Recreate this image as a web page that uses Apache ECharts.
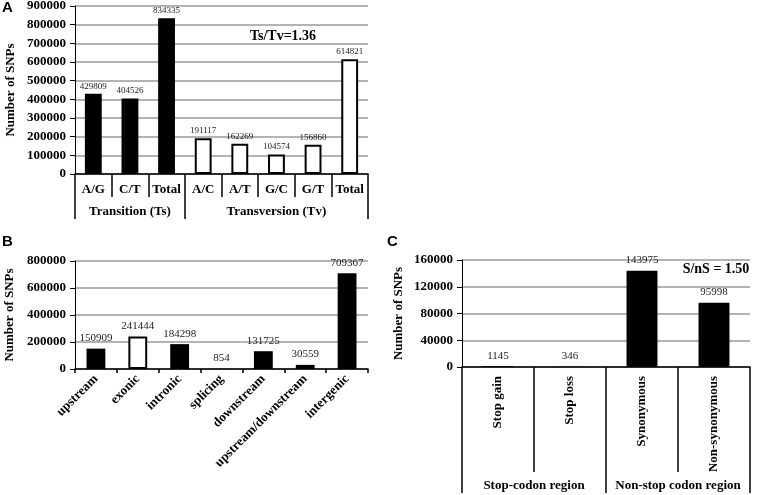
<!DOCTYPE html>
<html>
<head>
<meta charset="utf-8">
<script src="https://cdn.jsdelivr.net/npm/echarts@6/dist/echarts.min.js"></script>
<style>
html,body{margin:0;padding:0;background:#fff;}
#chart{width:757px;height:495px;}
</style>
</head>
<body>
<div id="chart"></div>
<script>
// ---- Panel A data ----
const catsA = ['A/G', 'C/T', 'Total', 'A/C', 'A/T', 'G/C', 'G/T', 'Total'];
const valsA = [429809, 404526, 834335, 191117, 162269, 104574, 156860, 614821];
const groupsA = ['Transition (Ts)', 'Transversion (Tv)'];
const groupSizesA = [3, 5];
const ticksA = [0, 100000, 200000, 300000, 400000, 500000, 600000, 700000, 800000, 900000];
const noteA = 'Ts/Tv=1.36';

// ---- Panel B data ----
const catsB = ['upstream', 'exonic', 'intronic', 'splicing', 'downstream', 'upstream/downstream', 'intergenic'];
const valsB = [150909, 241444, 184298, 854, 131725, 30559, 709367];
const ticksB = [0, 200000, 400000, 600000, 800000];

// ---- Panel C data ----
const catsC = ['Stop gain', 'Stop loss', 'Synonymous', 'Non-synonymous'];
const valsC = [1145, 346, 143975, 95998];
const groupsC = ['Stop-codon region', 'Non-stop codon region'];
const ticksC = [0, 40000, 80000, 120000, 160000];
const noteC = 'S/nS = 1.50';

const yTitle = 'Number of SNPs';

// ---- styling ----
const SERIF = '"Times New Roman", "Liberation Serif", serif';
const SANS = 'Arial, "Liberation Sans", sans-serif';
const black = {color: '#000'};
const hollow = {color: '#fff', borderColor: '#000', borderWidth: 2};
const hollowA = new Set(groupsA.slice(1)); // Transversion bars are hollow
const hollowB = new Set(['exonic']);

// group membership for A
const groupOfA = [];
groupSizesA.forEach((n, g) => { for (let k = 0; k < n; k++) groupOfA.push(groupsA[g]); });
const groupLabelsA = catsA.map(() => '');
const groupBoundA = [];
let start = 0;
groupSizesA.forEach((n, g) => { groupLabelsA[start + Math.floor(n / 2)] = groupsA[g]; groupBoundA.push(start); start += n; });

const chart = echarts.init(document.getElementById('chart'), null, {renderer: 'canvas'});

function yAxisCfg(gridIndex, ticks, gap) {
  return {
    type: 'value', gridIndex,
    min: ticks[0], max: ticks[ticks.length - 1], interval: ticks[1] - ticks[0],
    name: yTitle, nameLocation: 'middle', nameGap: gap, nameRotate: 90,
    nameTextStyle: {fontFamily: SERIF, fontWeight: 'bold', fontSize: 13, color: '#000'},
    axisLine: {show: true, lineStyle: {color: '#000', width: 1}},
    axisTick: {show: true, length: 5, lineStyle: {color: '#000'}},
    axisLabel: {fontFamily: SERIF, fontWeight: 'bold', fontSize: 13, color: '#000', margin: 9,
      formatter: v => String(v)},
    splitLine: {show: true, lineStyle: {color: '#9a9a9a', width: 1.5}}
  };
}

const labelBase = {show: true, position: 'top', fontFamily: SERIF, color: '#222'};

const option = {
  animation: false,
  backgroundColor: '#fff',
  grid: [
    {left: 75, right: 389, top: 6, bottom: 321, containLabel: false, outerBoundsMode: 'none'},
    {left: 75, right: 389, top: 261, bottom: 126, containLabel: false, outerBoundsMode: 'none'},
    {left: 462, right: 7, top: 260, bottom: 128, containLabel: false, outerBoundsMode: 'none'}
  ],
  xAxis: [
    // A: categories
    {type: 'category', gridIndex: 0, data: catsA, position: 'bottom',
      axisLine: {lineStyle: {color: '#000', width: 1.5}},
      axisTick: {show: true, length: 23, lineStyle: {color: '#000', width: 1.5}},
      axisLabel: {interval: 0, margin: 9, fontFamily: SERIF, fontWeight: 'bold', fontSize: 13, color: '#000'}},
    // A: groups
    {type: 'category', gridIndex: 0, data: groupLabelsA, position: 'bottom',
      axisLine: {show: false, onZero: false},
      axisTick: {show: true, length: 45, interval: (i) => groupBoundA.includes(i), lineStyle: {color: '#000', width: 1.5}},
      axisLabel: {interval: 0, margin: 31, fontFamily: SERIF, fontWeight: 'bold', fontSize: 13, color: '#000'}},
    // B
    {type: 'category', gridIndex: 1, data: catsB, position: 'bottom',
      axisLine: {lineStyle: {color: '#000', width: 1.5}},
      axisTick: {show: true, length: 4, lineStyle: {color: '#000', width: 1.5}},
      axisLabel: {interval: 0, rotate: 45, margin: 8, fontFamily: SERIF, fontWeight: 'bold', fontSize: 13, color: '#000'}},
    // C: categories
    {type: 'category', gridIndex: 2, data: catsC, position: 'bottom',
      axisLine: {lineStyle: {color: '#000', width: 1.5}},
      axisTick: {show: true, length: 105, lineStyle: {color: '#000', width: 1.5}},
      axisLabel: {interval: 0, rotate: 90, margin: 9, fontFamily: SERIF, fontWeight: 'bold', fontSize: 13, color: '#000'}},
    // C: groups
    {type: 'category', gridIndex: 2, data: groupsC, position: 'bottom',
      axisLine: {show: false, onZero: false},
      axisTick: {show: true, length: 126, lineStyle: {color: '#000', width: 1.5}},
      axisLabel: {interval: 0, margin: 112, fontFamily: SERIF, fontWeight: 'bold', fontSize: 13, color: '#000'}}
  ],
  yAxis: [
    yAxisCfg(0, ticksA, 58),
    yAxisCfg(1, ticksB, 59),
    yAxisCfg(2, ticksC, 57)
  ],
  series: [
    {type: 'bar', xAxisIndex: 0, yAxisIndex: 0, barWidth: '46%',
      data: valsA.map((v, i) => ({value: v, itemStyle: hollowA.has(groupOfA[i]) ? hollow : black})),
      label: Object.assign({}, labelBase, {fontSize: 9, distance: 3})},
    {type: 'bar', xAxisIndex: 2, yAxisIndex: 1, barWidth: '45%',
      data: valsB.map((v, i) => ({value: v, itemStyle: hollowB.has(catsB[i]) ? hollow : black})),
      label: Object.assign({}, labelBase, {fontSize: 11, distance: 5})},
    {type: 'bar', xAxisIndex: 3, yAxisIndex: 2, barWidth: '43%',
      data: valsC.map(v => ({value: v, itemStyle: black})),
      label: Object.assign({}, labelBase, {fontSize: 11, distance: 5})}
  ],
  graphic: [
    {type: 'text', left: 2, top: 0, style: {text: 'A', font: 'bold 15px ' + SANS, fill: '#000'}},
    {type: 'text', left: 2, top: 234, style: {text: 'B', font: 'bold 15px ' + SANS, fill: '#000'}},
    {type: 'text', left: 387, top: 234, style: {text: 'C', font: 'bold 15px ' + SANS, fill: '#000'}},
    {type: 'text', x: 283, y: 36, style: {text: noteA, font: 'bold 14px ' + SERIF, fill: '#000', textAlign: 'center', textVerticalAlign: 'middle'}},
    {type: 'text', x: 716, y: 269, style: {text: noteC, font: 'bold 14px ' + SERIF, fill: '#000', textAlign: 'center', textVerticalAlign: 'middle'}}
  ]
};

chart.setOption(option);
</script>
</body>
</html>
